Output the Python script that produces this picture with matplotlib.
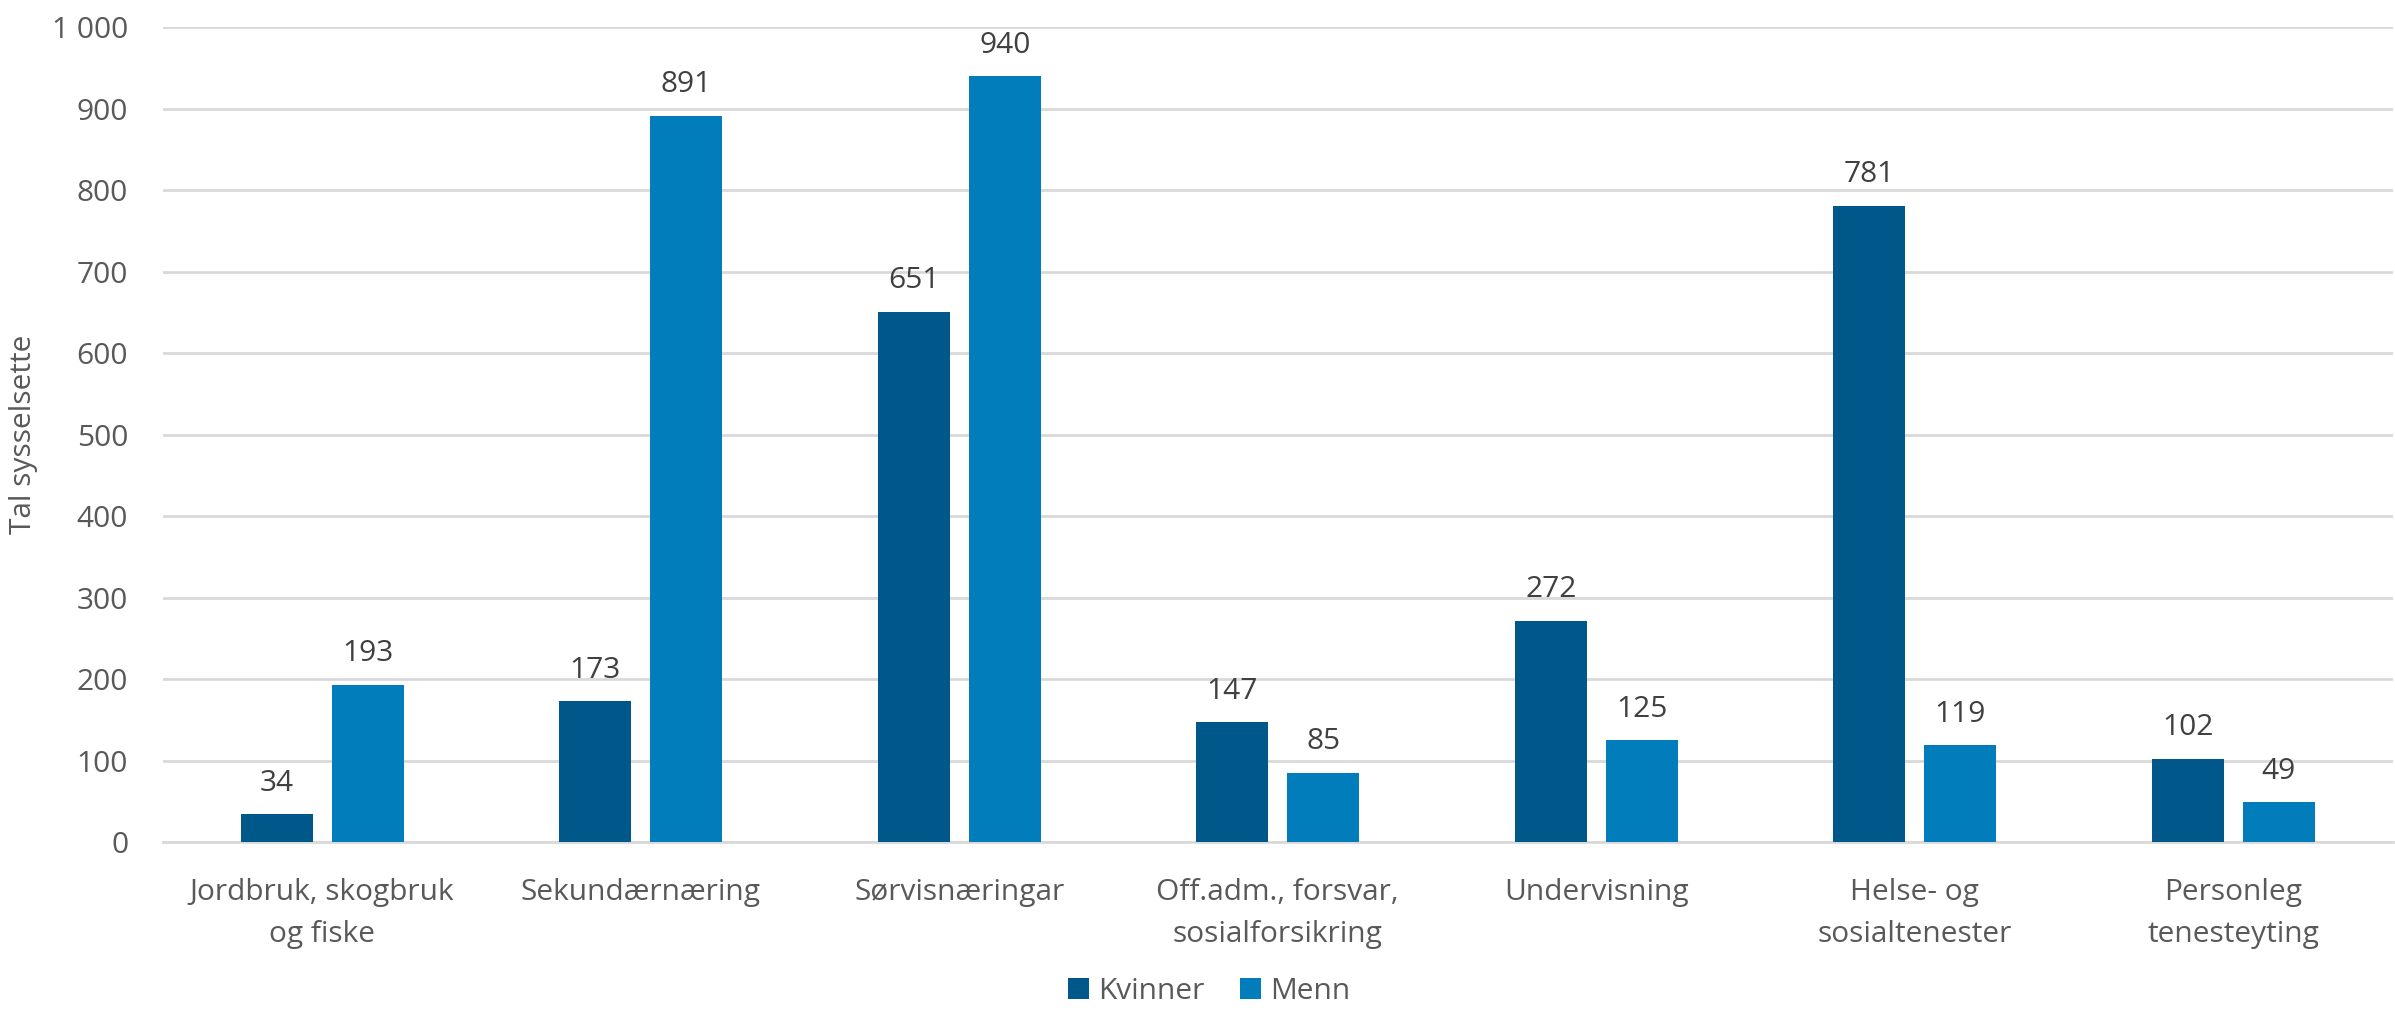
import matplotlib
matplotlib.use("Agg")
import matplotlib.pyplot as plt
import matplotlib.ticker as mticker
import numpy as np

# Data
categories = ["Jordbruk, skogbruk\nog fiske", "Sekundærnæring", "Sørvisnæringar",
              "Off.adm., forsvar,\nsosialforsikring", "Undervisning",
              "Helse- og\nsosialtenester", "Personleg\ntenesteyting"]
kvinner = [34, 173, 651, 147, 272, 781, 102]
menn = [193, 891, 940, 85, 125, 119, 49]
series_names = ["Kvinner", "Menn"]

col_k = "#00578a"
col_m = "#007dba"
txt = "#595959"
grid = "#d9d9d9"

plt.rcParams['font.family'] = ['Open Sans', 'DejaVu Sans']
fs = 21.5

fig = plt.figure(figsize=(23.95, 10.11), dpi=100)
ax = fig.add_axes([0.068, 0.167, 0.931, 0.806])

x = np.arange(len(categories))
w = 0.226
off = 0.143
b1 = ax.bar(x - off, kvinner, w, color=col_k, label=series_names[0], zorder=3)
b2 = ax.bar(x + off, menn, w, color=col_m, label=series_names[1], zorder=3)

# verdiar over søylene
for bars in (b1, b2):
    for b in bars:
        ax.annotate(str(int(b.get_height())), (b.get_x() + b.get_width() / 2, b.get_height()),
                    xytext=(0, 12), textcoords="offset points", ha="center", va="bottom",
                    fontsize=fs, color="#404040")

ax.set_xlim(-0.5, len(categories) - 0.5)
ax.set_ylim(0, 1000)
ax.set_yticks(np.arange(0, 1001, 100))
ax.yaxis.set_major_formatter(mticker.FuncFormatter(lambda v, p: f"{int(v):,}".replace(",", " ")))
ax.grid(axis="y", color=grid, linewidth=2, zorder=0)
for s in ["top", "right", "left"]:
    ax.spines[s].set_visible(False)
ax.spines["bottom"].set_color(grid)
ax.spines["bottom"].set_linewidth(2)

ax.set_xticks(x)
ax.set_xticklabels(categories, linespacing=1.6)
ax.tick_params(axis="x", length=0, pad=26, labelsize=fs, labelcolor=txt)
ax.tick_params(axis="y", length=0, pad=25, labelsize=fs, labelcolor=txt)

ax.set_ylabel("Tal sysselsette", fontsize=fs, color=txt)
ax.yaxis.set_label_coords(-0.056, 0.5)

fig.legend(loc="lower center", bbox_to_anchor=(0.505, -0.022), ncol=2, frameon=False,
           fontsize=fs, labelcolor=txt, handlelength=0.7, handleheight=0.7,
           handletextpad=0.3, columnspacing=1.2)

fig.savefig("out.png", dpi=100)
